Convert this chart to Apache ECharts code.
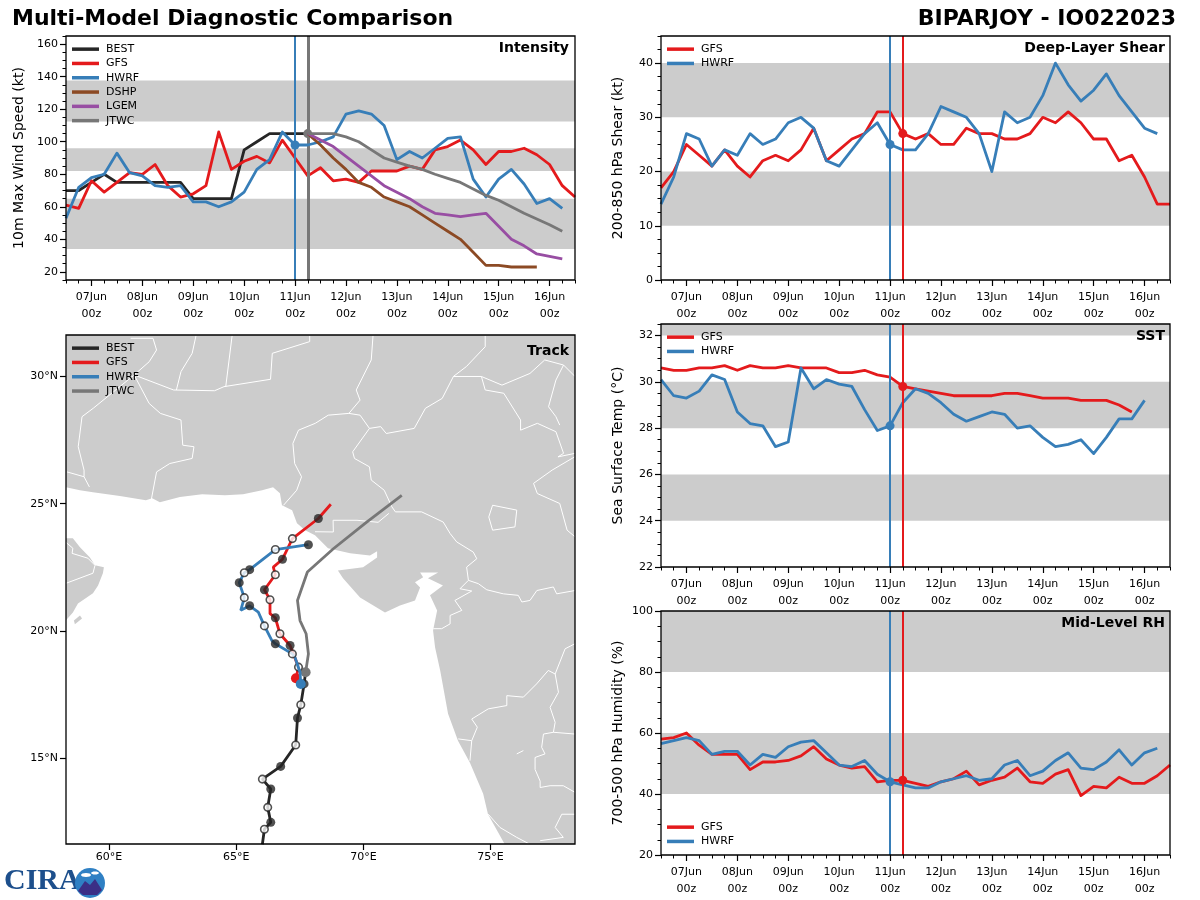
<!DOCTYPE html>
<html>
<head>
<meta charset="utf-8">
<style>html,body{margin:0;padding:0;background:#fff}#main{width:1200px;height:900px}</style>
<script src="https://cdn.jsdelivr.net/npm/echarts@6/dist/echarts.min.js"></script>
</head>
<body>
<div id="main"></div>
<script>
// data every 6 h, first value is 06Jun 12z
var dayLabels = ['07Jun','08Jun','09Jun','10Jun','11Jun','12Jun','13Jun','14Jun','15Jun','16Jun'];

var bestWind = [70,70,75,80,75,75,75,75,75,75,65,65,65,65,95,100,105,105,105,105];
var gfsWind = [61,59,76,69,75,81,80,86,73,66,68,73,106,83,88,91,87,101,90,79,84,76,77,75,82,82,82,85,83,95,97,101,95,86,94,94,96,92,86,73,66];
var hwrfWind = [53,72,78,80,93,81,79,73,72,73,63,63,60,63,69,83,89,106,98,98,100,103,117,119,117,110,89,94,90,96,102,103,77,66,77,83,74,62,65,59];
// these start at 11Jun 06z (index 19)
var dshpWind = [105,98,90,83,75,72,66,63,60,55,50,45,40,32,24,24,23,23,23];
var lgemWind = [105,101,97,91,85,79,73,69,65,60,56,55,54,55,56,48,40,36,31,29.5,28];
var jtwcWind = [105,105,105,103,100,95,90,87.5,85,83,80,77.5,75,71,67,64,60,56,52.5,49,45];

var gfsShear = [17,20,25,23,21,24,21,19,22,23,22,24,28,22,24,26,27,31,31,27,26,27,25,25,28,27,27,26,26,27,30,29,31,29,26,26,22,23,19,14,14];
var hwrfShear = [14,19,27,26,21,24,23,27,25,26,29,30,28,22,21,24,27,29,25,24,24,27,32,31,30,27,20,31,29,30,34,40,36,33,35,38,34,31,28,27];

var gfsSst = [30.6,30.5,30.5,30.6,30.6,30.7,30.5,30.7,30.6,30.6,30.7,30.6,30.6,30.6,30.4,30.4,30.5,30.3,30.2,29.8,29.7,29.6,29.5,29.4,29.4,29.4,29.4,29.5,29.5,29.4,29.3,29.3,29.3,29.2,29.2,29.2,29.0,28.7];
var hwrfSst = [30.1,29.4,29.3,29.6,30.3,30.1,28.7,28.2,28.1,27.2,27.4,30.6,29.7,30.1,29.9,29.8,28.8,27.9,28.1,29.1,29.7,29.5,29.1,28.6,28.3,28.5,28.7,28.6,28.0,28.1,27.6,27.2,27.3,27.5,26.9,27.6,28.4,28.4,29.2];

var gfsRh = [58,58.5,60,56,53,53,53,48,50.5,50.5,51,52.5,55.5,51.5,49.5,48.5,49,44,44.5,44.5,43.5,42.5,44,45,47.5,43,44.5,45.5,48.5,44,43.5,46.5,48,39.5,42.5,42,45.5,43.5,43.5,46,49.5];
var hwrfRh = [56.5,57.5,58.5,57.5,53,54,54,49.5,53,52,55.5,57,57.5,53.5,49.5,49,51,46.5,44,43,42,42,44,45,46,44.5,45,49.5,51,46,47.5,51,53.5,48.5,48,50.5,54.5,49.5,53.5,55];

// shaded ranges
var windBands = [[34,65],[82,96],[112.5,137.7]];
var shearBands = [[10,20],[30,40]];
var sstBands = [[24,26],[28,30],[32,32.5]];
var rhBands = [[40,60],[80,100]];

// tracks, lon/lat
var bestTrack = [[66.03,11.62],[66.11,12.21],[66.36,12.48],[66.24,13.07],[66.36,13.79],[66.03,14.18],[66.75,14.68],[67.34,15.52],[67.41,16.58],[67.54,17.10],[67.67,17.92],[67.73,18.38]];
var gfsTrack = [[67.35,18.14],[67.45,18.58],[67.12,19.43],[66.72,19.89],[66.54,20.52],[66.33,20.68],[66.33,21.23],[66.11,21.62],[66.54,22.21],[66.46,22.51],[66.82,22.82],[67.21,23.63],[68.23,24.42],[68.72,24.98]];
var hwrfTrack = [[67.54,17.92],[67.51,18.38],[67.31,18.97],[67.21,19.10],[66.54,19.50],[66.40,19.63],[66.11,20.20],[65.87,20.74],[65.53,20.99],[65.18,20.81],[65.32,21.31],[65.12,21.90],[65.32,22.29],[65.53,22.41],[66.54,23.20],[67.84,23.39]];
var jtwcTrack = [[67.73,18.38],[67.84,19.10],[67.75,19.89],[67.51,20.41],[67.41,21.20],[67.80,22.32],[68.82,23.23],[70.13,24.28],[71.51,25.33]];

// which track points get a filled or open dot
var bestFilled = [0,2,4,6,8,10], bestOpen = [1,3,5,7,9];
var gfsFilled = [2,4,7,10,12], gfsOpen = [1,3,6,8,11];
var hwrfFilled = [4,8,11,13,15], hwrfOpen = [3,6,10,12,14];

// land outline
var landMain = [[58.3,25.65],[58.86,25.53],[59.37,25.45],[60.43,25.30],[61.45,25.14],[61.7,25.22],[62.00,25.06],[62.79,25.26],[63.66,25.37],[64.56,25.33],[65.27,25.37],[66.02,25.53],[66.45,25.65],[66.72,25.41],[66.80,24.94],[67.20,24.74],[67.39,24.23],[67.71,23.96],[68.10,23.76],[68.61,23.25],[69.48,23.05],[70.26,22.97],[70.54,23.13],[70.54,22.89],[69.99,22.50],[69.00,22.38],[69.20,22.07],[69.87,21.32],[70.85,20.73],[71.44,21.0],[72.03,21.20],[72.23,21.71],[72.03,21.91],[72.35,22.11],[72.23,22.30],[72.94,22.30],[72.54,22.07],[73.13,21.79],[72.62,21.40],[72.90,20.80],[72.74,20.02],[72.82,19.35],[73.02,18.45],[73.33,16.75],[73.72,15.69],[74.19,14.82],[74.71,13.60],[74.90,12.80],[75.57,11.6],[78.32,11.6],[78.32,31.65],[58.3,31.65]];
var landOman = [[58.3,23.64],[58.58,23.64],[58.86,23.29],[59.25,22.89],[59.45,22.58],[59.80,22.50],[59.76,22.27],[59.57,21.79],[59.37,21.48],[58.78,21.08],[58.58,20.73],[58.3,20.41]];
var landMasirah = [[58.86,20.61],[58.94,20.49],[58.66,20.26],[58.62,20.41]];

// state and country borders
var borders = [
  [[60.85,31.50],[61.73,31.50],[61.87,31.04],[61.58,30.58],[60.99,30.06],[62.54,29.47],[64.15,29.44],[64.52,29.60],[66.35,29.89],[66.42,30.91],[67.89,31.37],[67.89,31.6]],
  [[60.99,30.06],[61.58,28.94],[62.02,28.55],[62.83,28.29],[62.90,27.30],[63.34,27.24],[63.27,26.78],[62.39,26.58],[61.87,26.25],[61.66,25.14]],
  [[60.99,30.06],[59.38,28.75],[58.94,28.42],[58.79,27.24],[59.02,26.32],[59.02,26.06],[59.23,25.66]],
  [[58.35,26.25],[59.02,26.06]],
  [[63.42,31.6],[63.27,30.91],[62.83,30.19],[62.65,29.47]],
  [[64.84,31.6],[64.59,29.60]],
  [[70.38,31.6],[70.31,30.65],[69.72,29.47],[69.87,29.07],[69.43,28.55],[68.62,28.48],[68.11,28.16],[67.45,27.89],[67.23,27.37],[67.30,26.58],[67.57,26.06],[67.38,25.53],[66.86,24.94]],
  [[69.43,28.55],[69.87,28.48],[70.24,27.96],[70.68,28.03],[70.90,27.76],[72.00,27.96],[72.44,28.75],[73.10,29.14],[73.54,30.0],[74.05,30.39],[74.79,31.17],[74.79,31.6]],
  [[70.24,27.96],[69.58,27.04],[69.65,26.78],[70.24,26.45],[70.31,25.93],[70.82,25.53],[71.12,24.88],[71.26,24.68],[72.29,24.68],[73.14,24.28],[73.41,23.83],[73.67,23.50],[74.32,23.10],[74.46,22.84],[74.06,22.51],[74.13,21.99],[73.80,21.66],[74.26,21.57],[73.60,21.20],[73.87,20.81],[73.41,20.61],[73.41,20.28],[73.08,20.09],[72.75,20.09]],
  [[71.0,24.62],[70.58,24.27],[69.75,24.35],[68.81,24.35],[68.82,23.89],[68.1,23.9]],
  [[74.13,21.99],[74.52,21.86],[74.85,21.62],[75.50,21.46],[76.09,21.40],[76.23,21.14],[76.55,21.20],[76.82,21.59],[77.47,21.73],[77.60,21.46],[78.32,21.59]],
  [[73.73,15.76],[74.26,15.69],[74.48,16.22],[74.26,16.54],[74.91,16.94],[75.64,17.07],[75.64,17.46],[76.29,17.40],[76.81,17.92],[77.27,18.45],[77.54,18.31],[77.93,19.30],[78.32,19.50]],
  [[77.54,18.31],[77.67,17.59],[77.34,17.00],[77.54,16.41],[77.47,16.02],[78.32,15.95]],
  [[77.47,16.02],[77.08,15.95],[77.01,15.43],[77.14,15.17],[76.75,15.03],[76.75,14.56],[76.95,14.10],[76.95,13.85],[77.34,13.92],[77.86,13.92],[78.32,13.66]],
  [[74.26,15.69],[74.19,14.90]],
  [[74.91,12.80],[75.37,12.28],[76.03,11.89],[76.49,11.65]],
  [[78.32,12.80],[77.80,12.80],[77.54,12.28],[77.86,11.89],[76.95,11.76]],
  [[76.03,15.17],[76.29,15.30]],
  [[73.54,30.0],[74.64,30.0],[74.79,29.47],[75.52,29.34],[76.18,28.29],[76.18,27.89],[76.84,28.16],[77.57,27.83],[77.87,26.98],[77.65,26.84],[78.32,26.98]],
  [[78.32,26.85],[77.42,26.32],[76.69,25.80],[76.84,25.40],[77.72,25.01],[78.01,23.96],[78.32,23.7]],
  [[74.64,30.0],[75.45,29.66],[76.55,30.12],[77.13,30.65],[77.87,30.45],[78.32,30.0]],
  [[77.87,30.45],[77.57,29.86],[77.28,28.81],[77.57,28.42],[77.72,28.09]],
  [[74.93,24.48],[75.08,24.94],[76.03,24.75],[75.96,24.09],[75.08,23.96],[74.93,24.48]],
  [[58.3,23.49],[58.58,23.25],[58.55,23.05],[59.17,22.86],[59.45,22.58],[59.37,22.27],[58.3,21.87]]
];

var C_BEST = '#262626', C_GFS = '#e41a1c', C_HWRF = '#377eb8', C_DSHP = '#8c4a24', C_LGEM = '#984ea3', C_JTWC = '#777777';
var FONT = 'DejaVu Sans';
var NOW_HWRF = 96, NOW_GFS = 102;  // hours after 07Jun 00z

var chart = echarts.init(document.getElementById('main'), null, {renderer: 'canvas'});

// hours after 07Jun 00z for each 6-hourly value
function pts(values, start) {
  start = start || 0;
  return values.map(function (v, i) { return [(i + start) * 6 - 12, v]; });
}

var grids = [
  {left: 66, top: 36, width: 509, height: 244},
  {left: 661, top: 36, width: 509, height: 244},
  {left: 661, top: 324, width: 509, height: 243},
  {left: 661, top: 611, width: 509, height: 244},
  {left: 66, top: 335, width: 509, height: 509}
];
grids.forEach(function (g) {
  g.show = true; g.z = 10; g.borderColor = '#000'; g.borderWidth = 1.3; g.backgroundColor = 'transparent';
});

var xAxes = [], yAxes = [], series = [];
var dayTicks = dayLabels.map(function (d, i) { return i * 24; });

// one time panel: main axes + overlaid axes that only draw the small ticks
function addPanel(i, name, yMin, yMax, yTicks, yMinor, bands, lines) {
  var axisX = xAxes.length, axisY = yAxes.length;
  xAxes.push({
    type: 'value', gridIndex: i, position: 'bottom', min: -12, max: 228,
    splitLine: {show: false}, axisLine: {show: false, onZero: false},
    axisTick: {show: true, length: 6, customValues: dayTicks, lineStyle: {color: '#000', width: 1.2}},
    axisLabel: {
      customValues: dayTicks, fontFamily: FONT, fontSize: 11, color: '#000', margin: 9, lineHeight: 16.5,
      formatter: function (v) { return dayLabels[v / 24] + '\n00z'; }
    }
  });
  xAxes.push({
    type: 'value', gridIndex: i, position: 'bottom', min: -12, max: 228, interval: 6,
    splitLine: {show: false}, axisLine: {show: false, onZero: false}, axisLabel: {show: false},
    axisTick: {length: 3.5, lineStyle: {color: '#000', width: 1}}
  });
  yAxes.push({
    type: 'value', gridIndex: i, position: 'left', min: yMin, max: yMax,
    name: name, nameLocation: 'middle', nameGap: i === 0 ? 40 : 36, nameRotate: 90,
    nameTextStyle: {fontFamily: FONT, fontSize: 14, color: '#000'},
    splitLine: {show: false}, axisLine: {show: false, onZero: false},
    axisTick: {show: true, length: 6, customValues: yTicks, lineStyle: {color: '#000', width: 1.2}},
    axisLabel: {customValues: yTicks, fontFamily: FONT, fontSize: 11, color: '#000', margin: 8}
  });
  yAxes.push({
    type: 'value', gridIndex: i, position: 'left', min: yMin, max: yMax, interval: yMinor,
    splitLine: {show: false}, axisLine: {show: false, onZero: false}, axisLabel: {show: false},
    axisTick: {length: 3.5, lineStyle: {color: '#000', width: 1}}
  });

  series.push({
    type: 'line', name: 'bands' + i, data: [], xAxisIndex: axisX, yAxisIndex: axisY, z: 1, silent: true,
    markArea: {
      silent: true, itemStyle: {color: '#cccccc'},
      data: bands.map(function (b) { return [{yAxis: b[0]}, {yAxis: b[1]}]; })
    }
  });

  lines.forEach(function (l, k) {
    var s = {
      type: 'line', name: l.name, data: pts(l.values, l.start), xAxisIndex: axisX, yAxisIndex: axisY,
      symbol: 'none', z: 3 + k, silent: true,
      lineStyle: {color: l.color, width: 2.8, join: 'round'}, itemStyle: {color: l.color}
    };
    if (l.now !== undefined) {
      s.markLine = {
        silent: true, symbol: 'none', animation: false, label: {show: false},
        lineStyle: {color: l.color, width: l.name === 'JTWC' ? 3 : 2, type: 'solid'},
        data: [{xAxis: l.now}]
      };
      s.markPoint = {
        silent: true, symbol: 'circle', symbolSize: 9, label: {show: false}, itemStyle: {color: l.color},
        data: [{coord: [l.now, l.values[(l.now + 12) / 6 - (l.start || 0)]]}]
      };
    }
    series.push(s);
  });
}

addPanel(0, '10m Max Wind Speed (kt)', 15, 165, [20,40,60,80,100,120,140,160], 5, windBands, [
  {name: 'BEST', values: bestWind, color: C_BEST},
  {name: 'GFS', values: gfsWind, color: C_GFS},
  {name: 'HWRF', values: hwrfWind, color: C_HWRF, now: NOW_HWRF},
  {name: 'DSHP', values: dshpWind, start: 19, color: C_DSHP},
  {name: 'LGEM', values: lgemWind, start: 19, color: C_LGEM},
  {name: 'JTWC', values: jtwcWind, start: 19, color: C_JTWC, now: NOW_GFS}
]);
addPanel(1, '200-850 hPa Shear (kt)', 0, 45, [0,10,20,30,40], 2.5, shearBands, [
  {name: 'GFS', values: gfsShear, color: C_GFS, now: NOW_GFS},
  {name: 'HWRF', values: hwrfShear, color: C_HWRF, now: NOW_HWRF}
]);
addPanel(2, 'Sea Surface Temp (°C)', 22, 32.5, [22,24,26,28,30,32], 0.5, sstBands, [
  {name: 'GFS', values: gfsSst, color: C_GFS, now: NOW_GFS},
  {name: 'HWRF', values: hwrfSst, color: C_HWRF, now: NOW_HWRF}
]);
addPanel(3, '700-500 hPa Humidity (%)', 20, 100, [20,40,60,80,100], 5, rhBands, [
  {name: 'GFS', values: gfsRh, color: C_GFS, now: NOW_GFS},
  {name: 'HWRF', values: hwrfRh, color: C_HWRF, now: NOW_HWRF}
]);

// track map
var mapX = xAxes.length, mapY = yAxes.length;
xAxes.push({
  type: 'value', gridIndex: 4, position: 'bottom', min: 58.31, max: 78.32,
  splitLine: {show: false}, axisLine: {show: false, onZero: false},
  axisTick: {show: true, length: 6, customValues: [60,65,70,75], lineStyle: {color: '#000', width: 1.2}},
  axisLabel: {
    customValues: [60,65,70,75], fontFamily: FONT, fontSize: 11, color: '#000', margin: 8,
    formatter: function (v) { return v + '°E'; }
  }
});
yAxes.push({
  type: 'value', gridIndex: 4, position: 'left', min: 11.63, max: 31.63,
  splitLine: {show: false}, axisLine: {show: false, onZero: false},
  axisTick: {show: true, length: 6, customValues: [15,20,25,30], lineStyle: {color: '#000', width: 1.2}},
  axisLabel: {
    customValues: [15,20,25,30], fontFamily: FONT, fontSize: 11, color: '#000', margin: 8,
    formatter: function (v) { return v + '°N'; }
  }
});

var landPolys = [landMain, landOman, landMasirah];
series.push({
  type: 'custom', name: 'land', xAxisIndex: mapX, yAxisIndex: mapY, z: 1, silent: true, clip: true,
  data: landPolys.map(function (p, i) { return [p[0][0], p[0][1], i]; }),
  renderItem: function (params, api) {
    var poly = landPolys[params.dataIndex];
    return {
      type: 'polygon',
      shape: {points: poly.map(function (c) { return api.coord(c); })},
      style: {fill: '#cccccc', stroke: null}
    };
  }
});
series.push({
  type: 'lines', name: 'borders', coordinateSystem: 'cartesian2d', polyline: true, xAxisIndex: mapX, yAxisIndex: mapY,
  z: 2, silent: true, lineStyle: {color: '#ffffff', width: 1, opacity: 1},
  data: borders.map(function (c) { return {coords: c}; })
});

function pick(track, idx) { return idx.map(function (i) { return track[i]; }); }

function addTrack(name, track, color, k) {
  series.push({
    type: 'line', name: name, data: track, xAxisIndex: mapX, yAxisIndex: mapY, symbol: 'none', z: 3 + k, silent: true,
    lineStyle: {color: color, width: 2.8}, itemStyle: {color: color},
    markPoint: {
      silent: true, symbol: 'circle', symbolSize: 10, label: {show: false}, itemStyle: {color: color},
      data: name === 'BEST' ? [] : [{coord: track[0]}]
    }
  });
}
function addDots(track, filled, open, k) {
  series.push({
    type: 'scatter', name: 'filled', data: pick(track, filled), xAxisIndex: mapX, yAxisIndex: mapY, z: 3 + k, silent: true,
    symbol: 'circle', symbolSize: 9, itemStyle: {color: '#262626'}
  });
  series.push({
    type: 'scatter', name: 'open', data: pick(track, open), xAxisIndex: mapX, yAxisIndex: mapY, z: 3 + k, silent: true,
    symbol: 'circle', symbolSize: 7.5, itemStyle: {color: '#ffffff', borderColor: '#262626', borderWidth: 1.6}
  });
}
addTrack('BEST', bestTrack, C_BEST, 0);
addDots(bestTrack, bestFilled, bestOpen, 1);
addTrack('GFS', gfsTrack, C_GFS, 2);
addDots(gfsTrack, gfsFilled, gfsOpen, 3);
addTrack('JTWC', jtwcTrack, C_JTWC, 4);
addTrack('HWRF', hwrfTrack, C_HWRF, 5);
addDots(hwrfTrack, hwrfFilled, hwrfOpen, 6);

function legendAt(left, top, names) {
  return {
    left: left, top: top, orient: 'vertical', data: names, icon: 'rect', itemWidth: 27, itemHeight: 3.5, itemGap: 0,
    selectedMode: false, padding: 0, z: 20,
    textStyle: {fontFamily: FONT, fontSize: 11, color: '#000', lineHeight: 14.3, padding: [0, 0, 0, 2]}
  };
}

function panelLabel(text, right, top) {
  return {text: text, right: right, top: top, padding: 0, textStyle: {fontFamily: FONT, fontSize: 14, fontWeight: 'bold', color: '#000'}, z: 20};
}

var option = {
  animation: false,
  backgroundColor: '#fff',
  grid: grids,
  xAxis: xAxes,
  yAxis: yAxes,
  title: [
    {text: 'Multi-Model Diagnostic Comparison', left: 12, top: 8, padding: 0, textStyle: {fontFamily: FONT, fontSize: 22, fontWeight: 'bold', color: '#000'}},
    {text: 'BIPARJOY - IO022023', right: 24, top: 8, padding: 0, textStyle: {fontFamily: FONT, fontSize: 22, fontWeight: 'bold', color: '#000'}},
    panelLabel('Intensity', 631, 41),
    panelLabel('Deep-Layer Shear', 35, 41),
    panelLabel('Track', 631, 344),
    panelLabel('SST', 35, 329),
    panelLabel('Mid-Level RH', 35, 616)
  ],
  legend: [
    legendAt(72, 42, ['BEST','GFS','HWRF','DSHP','LGEM','JTWC']),
    legendAt(667, 42, ['GFS','HWRF']),
    legendAt(72, 341, ['BEST','GFS','HWRF','JTWC']),
    legendAt(667, 330, ['GFS','HWRF']),
    legendAt(667, 820, ['GFS','HWRF'])
  ],
  series: series,
  // CIRA logo
  graphic: [
    {type: 'text', left: 4, top: 866, style: {text: 'CIRA', font: 'bold 30px "Liberation Serif"', fill: '#1d4f8c'}},
    {type: 'circle', shape: {cx: 90, cy: 883, r: 15}, style: {fill: '#2f80c4'}},
    {type: 'polygon', shape: {points: [[78,891],[85,881],[90,885],[95,879],[102,890],[97,895],[83,895]]}, style: {fill: '#3b2f86'}},
    {type: 'ellipse', shape: {cx: 86, cy: 875, rx: 5, ry: 2}, style: {fill: '#ffffff'}},
    {type: 'ellipse', shape: {cx: 95, cy: 873, rx: 4, ry: 1.5}, style: {fill: '#ffffff'}}
  ]
};
chart.setOption(option);
</script>
</body>
</html>
